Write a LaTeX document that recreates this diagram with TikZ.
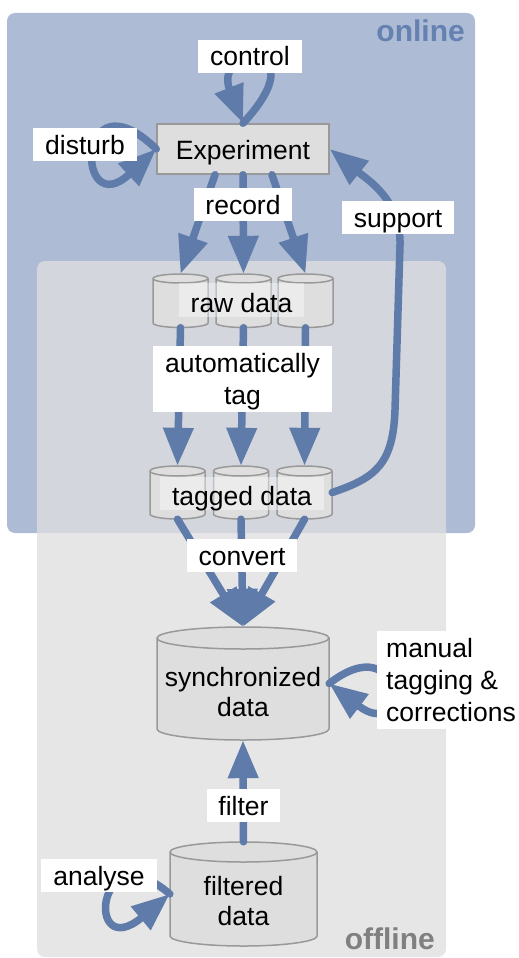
\documentclass[tikz,border=0pt]{standalone}
\usepackage{fontspec}
\setmainfont{Liberation Sans}
\usetikzlibrary{arrows.meta}
\definecolor{arrowblue}{RGB}{94,123,170}
\definecolor{onlinefill}{RGB}{173,187,212}
\definecolor{onlinetext}{RGB}{100,129,177}
\definecolor{offlinefill}{RGB}{223,223,223}
\definecolor{offlinetext}{RGB}{128,128,128}
\definecolor{boxfill}{RGB}{222,222,222}
\definecolor{boxline}{RGB}{153,153,153}
\newcommand\drawcyl[6]{%
  \path[cylfill] ({#2-#5},#3) -- ({#2-#5},#4)
    arc[start angle=180,end angle=360,x radius=#5pt,y radius=#6pt]
    -- ({#2+#5},#3)
    arc[start angle=0,end angle=180,x radius=#5pt,y radius=#6pt] -- cycle;
  \draw[cylline] ({#2-#5},#3) arc[start angle=180,end angle=360,x radius=#5pt,y radius=#6pt];
  \node[inner sep=0pt, minimum width={2*#5pt}, minimum height={(#4-#3+2*#6)*1pt}] (#1) at (#2,{(#3+#4)/2}) {};
}
\tikzset{
  txt/.style={font=\fontsize{26.5}{32}\selectfont, text=black},
  txtb/.style={font=\fontsize{26.5}{30}\selectfont, text=black},
  arr/.style={draw=arrowblue, line width=7.5pt, line cap=round, -{Triangle[length=38pt,width=29pt]}},
  lbl/.style={txt, fill=white, inner xsep=0pt, inner ysep=7pt, text height=19pt, text depth=0pt, minimum height=33pt},
  cyllbl/.style={txt, fill=white, fill opacity=0.4, text opacity=1, inner xsep=0pt, inner ysep=5pt, text depth=0pt},
  cylfill/.style={fill=boxfill, draw=boxline, line width=1.5pt},
  cylline/.style={draw=boxline, line width=1.5pt},
  expbox/.style={txt, fill=boxfill, draw=boxline, line width=1.5pt, text height=20pt, text depth=0pt, inner sep=0pt},
  arealbl/.style={font=\fontsize{30}{34}\selectfont\bfseries, inner sep=0pt}
}
\begin{document}
\begin{tikzpicture}[x=1pt,y=-1pt]
\useasboundingbox (0,0) rectangle (519,958);
% areas
\path[fill=onlinefill, rounded corners=8pt] (7,13) rectangle (475,533);
\path[fill=offlinefill, fill opacity=0.77, rounded corners=8pt] (37,261) rectangle (446,957);
\node[arealbl, text=onlinetext, anchor=base east] (onlinelbl) at (465,42) {online};
\node[arealbl, text=offlinetext, anchor=base east] (offlinelbl) at (435,949) {offline};
% nodes
\node[expbox, minimum width=172pt, minimum height=50pt] (exp) at (243,149) {Experiment};
\drawcyl{raw1}{180.5}{278.5}{323}{27.5}{4.5}
\drawcyl{raw2}{243.5}{278.5}{323}{27.5}{4.5}
\drawcyl{raw3}{305.5}{278.5}{323}{27.5}{4.5}
\drawcyl{tag1}{177.5}{471}{514}{27.5}{5}
\drawcyl{tag2}{241}{471}{514}{27.5}{5}
\drawcyl{tag3}{304.5}{471}{514}{27.5}{5}
\drawcyl{sync}{243}{638}{729}{86}{11}
\drawcyl{filt}{243.5}{852}{936}{73.5}{10}
\node[txtb, align=center, text height=49pt, text depth=0pt, inner sep=0pt] (synctext) at (243,691.5) {synchronized\\data};
\node[txtb, align=center, text height=49pt, text depth=0pt, inner sep=0pt] (filttext) at (243.5,900.5) {filtered\\data};
% arrows
\draw[arr] (exp.north) .. controls (320,40) and (212,45) .. (exp.north);
\draw[arr] (exp.west) .. controls (75,70) and (75,225) .. (exp.west);
\draw[arr] ([xshift=-28pt]exp.south) -- (raw1.north);
\draw[arr] (exp.south) -- (raw2.north);
\draw[arr] ([xshift=29pt]exp.south) -- (raw3.north);
\draw[arr] (raw1.south) -- (tag1.north);
\draw[arr] (raw2.south) -- (tag2.north);
\draw[arr] (raw3.south) -- (tag3.north);
\draw[arr] (tag1.south) -- (sync.north);
\draw[arr] (tag2.south) -- (sync.north);
\draw[arr] (tag3.south) -- (sync.north);
\draw[arr] (tag3.east) .. controls (375,478) and (393,465) .. (395,410) -- (400,245) .. controls (401,200) and (368,180) .. (exp.east);
\draw[arr] (sync.east) .. controls (405,625) and (410,745) .. (sync.east);
\draw[arr] (filt.north) -- (sync.south);
\draw[arr] (filt.west) .. controls (95,830) and (85,965) .. (filt.west);
% labels
\node[lbl, minimum width=104pt] (control) at (250,56.5) {control};
\node[lbl, minimum width=104pt] (disturb) at (85,144.5) {disturb};
\node[lbl, minimum width=98pt] (record) at (243,204.5) {record};
\node[lbl, minimum width=112pt] (support) at (398,217.5) {support};
\node[cyllbl, minimum width=125pt, text height=24pt, minimum height=34pt] (rawlbl) at (241.5,300) {raw data};
\node[lbl, align=center, minimum width=179pt, text height=51pt, inner ysep=7.5pt, minimum height=66pt] (autotag) at (242.5,379) {automatically\\tag};
\node[cyllbl, minimum width=164pt, text height=23pt, minimum height=33pt] (taglbl) at (242,493.5) {tagged data};
\node[lbl, minimum width=110pt] (convert) at (242,555.5) {convert};
\node[lbl, align=left, anchor=west, inner xsep=9pt, text height=83pt, inner ysep=7.5pt, minimum height=98pt] (manual) at (377,680) {manual\\tagging \&\\corrections};
\node[lbl, minimum width=73pt] (filter) at (243.5,805.5) {filter};
\node[lbl, minimum width=116pt] (analyse) at (99,875.5) {analyse};
\end{tikzpicture}
\end{document}
